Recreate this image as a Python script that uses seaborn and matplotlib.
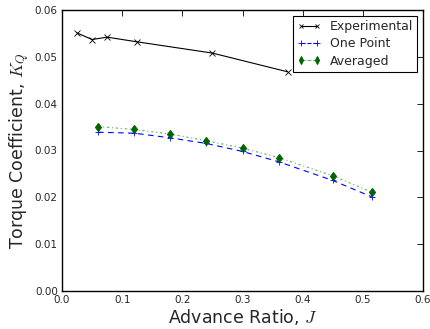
import matplotlib
matplotlib.use("Agg")
import matplotlib.pyplot as plt
import seaborn as sns
import numpy as np

exp_J = [0.025, 0.05, 0.075, 0.125, 0.25, 0.375]
exp_KQ = [0.0551, 0.0537, 0.0542, 0.0532, 0.0508, 0.0468]

sim_J = [0.06, 0.12, 0.18, 0.24, 0.30, 0.36, 0.45, 0.515]
one_point_KQ = [0.0339, 0.0337, 0.0327, 0.0315, 0.0298, 0.0276, 0.0236, 0.0201]
averaged_KQ = [0.0351, 0.0345, 0.0335, 0.0321, 0.0305, 0.0285, 0.0246, 0.0211]

sns.set_style("white", {
    "xtick.direction": "in", "ytick.direction": "in",
    "axes.edgecolor": "black", "axes.linewidth": 1.0,
})
plt.rcParams["font.family"] = ["DejaVu Sans"]
plt.rcParams["mathtext.fontset"] = "cm"
plt.rcParams["legend.numpoints"] = 2

fig = plt.figure(figsize=(4.30, 3.29), dpi=100)
ax = fig.add_axes([62/430, 1 - 291/329, (423-62)/430, (291-10)/329])

sns.lineplot(x=exp_J, y=exp_KQ, ax=ax, color="black", marker="x",
             markersize=4, markeredgewidth=0.6, markeredgecolor="black",
             linewidth=0.8, label="Experimental")
sns.lineplot(x=sim_J, y=one_point_KQ, ax=ax, color="blue", marker="+",
             markersize=5, markeredgewidth=0.6, markeredgecolor="blue",
             linewidth=0.8, label="One Point")
sns.lineplot(x=sim_J, y=averaged_KQ, ax=ax, color="green", marker="d",
             markersize=4.5, markeredgecolor="darkgreen", markerfacecolor="darkgreen",
             markeredgewidth=0.8, linewidth=0.8, label="Averaged")

l_exp, l_one, l_avg = ax.lines[0], ax.lines[1], ax.lines[2]
l_exp.set_markeredgecolor("black")
l_one.set_linestyle((0, (5, 4)))
l_one.set_markeredgecolor("blue")
l_avg.set_linestyle((0, (2, 2.5, 1, 2.5)))
l_avg.set_color((0.35, 0.72, 0.35))
l_avg.set_markerfacecolor("darkgreen")
l_avg.set_markeredgecolor("darkgreen")

ax.set_xlim(0, 0.6)
ax.set_ylim(0, 0.06)
xt = np.round(np.arange(0, 0.61, 0.1), 2)
yt = np.round(np.arange(0, 0.061, 0.01), 3)
ax.set_xticks(xt)
ax.set_yticks(yt)
ax.set_xticklabels([f"{v:.1f}" for v in xt])
ax.set_yticklabels([f"{v:.2f}" for v in yt])
ax.tick_params(axis="both", which="both", direction="in", top=True, right=True,
               labelsize=7.5, length=4, width=0.6, color="black", pad=3)
for s in ax.spines.values():
    s.set_visible(True)
    s.set_color("black")
    s.set_linewidth(1.0)

ax.set_xlabel("Advance Ratio, $J$", fontsize=12.5, labelpad=1)
ax.set_ylabel("Torque Coefficient, $K_Q$", fontsize=12.5, labelpad=2)

leg = ax.legend(loc="upper right", fontsize=9, frameon=True, fancybox=False,
                framealpha=1, edgecolor="black", handlelength=1.9, borderpad=0.35,
                labelspacing=0.35, handletextpad=0.7, borderaxespad=0.45,
                numpoints=2, markerscale=0.8)
leg.get_frame().set_linewidth(0.8)
for h, src in zip(leg.get_lines(), [l_exp, l_one, l_avg]):
    h.set_markeredgecolor(src.get_markeredgecolor())
    h.set_markerfacecolor(src.get_markerfacecolor())
    h.set_linestyle(src.get_linestyle())
    h.set_color(src.get_color())

fig.savefig("out.png", dpi=100, facecolor="white")
